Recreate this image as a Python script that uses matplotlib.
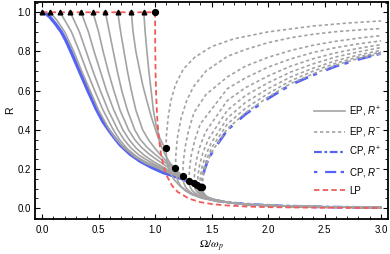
import matplotlib
matplotlib.use('Agg')
import matplotlib.pyplot as plt
from matplotlib.lines import Line2D

# ---------------- data ----------------
# CP: common part (R+ = R-) for Omega < sqrt(2)
cp_low_x = [0.0, 0.03, 0.07, 0.12, 0.17, 0.21, 0.255, 0.30, 0.33, 0.405, 0.48, 0.54, 0.60, 0.65, 0.69, 0.78, 0.867, 0.97, 1.07, 1.15, 1.227, 1.30, 1.374, 1.414]
cp_low_y = [1.0, 0.995, 0.975, 0.94, 0.90, 0.857, 0.80, 0.74, 0.70, 0.60, 0.505, 0.44, 0.39, 0.352, 0.323, 0.275, 0.24, 0.208, 0.182, 0.167, 0.153, 0.135, 0.117, 0.105]
cp_plus_x = [1.414, 1.417, 1.424, 1.436, 1.456, 1.486, 1.53, 1.6, 1.7, 1.85, 2.1, 2.5, 3.0]
cp_plus_y = [0.105, 0.088, 0.076, 0.065, 0.056, 0.048, 0.041, 0.033, 0.026, 0.019, 0.012, 0.006, 0.003]
cp_minus_x = [1.414, 1.419, 1.434, 1.464, 1.514, 1.64, 1.8, 2.0, 2.2, 2.4, 2.6, 2.8, 3.0]
cp_minus_y = [0.105, 0.145, 0.19, 0.24, 0.295, 0.40, 0.48, 0.56, 0.63, 0.68, 0.725, 0.76, 0.79]

# LP
lp_x = [0.0, 1.0, 1.0, 1.001, 1.005, 1.01, 1.02, 1.03, 1.05, 1.07, 1.1, 1.15, 1.2, 1.3, 1.4, 1.5, 1.6, 1.8, 2.0, 2.5, 3.0]
lp_y = [1.0, 1.0, 1.0, 0.835, 0.67, 0.568, 0.45, 0.376, 0.284, 0.226, 0.169, 0.115, 0.083, 0.0485, 0.031, 0.0213, 0.0152, 0.0085, 0.0052, 0.0019, 0.0009]

# EP: start points on R = 1 (triangles) and branch points (dots)
ep_start_x = [0.0, 0.07, 0.16, 0.25, 0.345, 0.45, 0.56, 0.67, 0.79, 0.90]
ep_branch_x = [1.418, 1.41, 1.395, 1.375, 1.345, 1.30, 1.245, 1.18, 1.097]
ep_branch_y = [0.106, 0.108, 0.110, 0.116, 0.126, 0.139, 0.163, 0.205, 0.305]

# EP curves before branch point (R+ = R-)
ep1_low_x = [0.07, 0.13, 0.20, 0.28, 0.35, 0.425, 0.50, 0.595, 0.65, 0.72, 0.82, 0.92, 1.0, 1.1, 1.2, 1.28, 1.35, 1.418]
ep1_low_y = [1.0, 0.96, 0.9, 0.8, 0.7, 0.6, 0.5, 0.4, 0.355, 0.31, 0.263, 0.228, 0.21, 0.185, 0.163, 0.143, 0.124, 0.106]
ep2_low_x = [0.16, 0.26, 0.33, 0.395, 0.465, 0.54, 0.63, 0.685, 0.75, 0.84, 0.92, 1.0, 1.1, 1.2, 1.28, 1.35, 1.41]
ep2_low_y = [1.0, 0.9, 0.8, 0.7, 0.6, 0.5, 0.4, 0.35, 0.305, 0.262, 0.235, 0.215, 0.189, 0.165, 0.145, 0.125, 0.108]
ep3_low_x = [0.25, 0.33, 0.39, 0.45, 0.515, 0.585, 0.67, 0.725, 0.785, 0.86, 0.93, 1.0, 1.1, 1.2, 1.28, 1.34, 1.395]
ep3_low_y = [1.0, 0.9, 0.8, 0.7, 0.6, 0.5, 0.4, 0.35, 0.308, 0.27, 0.245, 0.222, 0.194, 0.168, 0.146, 0.128, 0.110]
ep4_low_x = [0.345, 0.41, 0.46, 0.515, 0.57, 0.635, 0.715, 0.77, 0.83, 0.9, 0.96, 1.0, 1.1, 1.2, 1.28, 1.33, 1.375]
ep4_low_y = [1.0, 0.9, 0.8, 0.7, 0.6, 0.5, 0.4, 0.35, 0.308, 0.272, 0.248, 0.233, 0.2, 0.171, 0.149, 0.132, 0.116]
ep5_low_x = [0.45, 0.50, 0.54, 0.585, 0.635, 0.69, 0.765, 0.82, 0.88, 0.95, 1.0, 1.1, 1.2, 1.27, 1.31, 1.345]
ep5_low_y = [1.0, 0.9, 0.8, 0.7, 0.6, 0.5, 0.4, 0.35, 0.31, 0.275, 0.254, 0.214, 0.178, 0.153, 0.139, 0.126]
ep6_low_x = [0.56, 0.595, 0.63, 0.665, 0.705, 0.755, 0.82, 0.87, 0.93, 1.0, 1.1, 1.2, 1.25, 1.30]
ep6_low_y = [1.0, 0.9, 0.8, 0.7, 0.6, 0.5, 0.4, 0.35, 0.31, 0.275, 0.228, 0.185, 0.162, 0.139]
ep7_low_x = [0.67, 0.695, 0.725, 0.755, 0.79, 0.83, 0.89, 0.94, 1.0, 1.05, 1.1, 1.15, 1.2, 1.245]
ep7_low_y = [1.0, 0.9, 0.8, 0.7, 0.6, 0.5, 0.4, 0.35, 0.305, 0.27, 0.24, 0.212, 0.187, 0.163]
ep8_low_x = [0.79, 0.805, 0.83, 0.858, 0.89, 0.926, 0.97, 1.015, 1.06, 1.1, 1.14, 1.18]
ep8_low_y = [1.0, 0.9, 0.8, 0.72, 0.63, 0.55, 0.46, 0.38, 0.31, 0.26, 0.225, 0.205]
ep9_low_x = [0.90, 0.912, 0.928, 0.945, 0.965, 0.985, 1.01, 1.04, 1.07, 1.097]
ep9_low_y = [1.0, 0.9, 0.8, 0.7, 0.6, 0.5, 0.42, 0.36, 0.325, 0.305]

# EP, R+ after branch point
ep1_plus_x = [1.418, 1.421, 1.428, 1.44, 1.46, 1.49, 1.53, 1.59, 1.67, 1.8, 2.2, 3.0]
ep1_plus_y = [0.106, 0.09, 0.079, 0.068, 0.058, 0.05, 0.043, 0.035, 0.028, 0.019, 0.009, 0.003]
ep2_plus_x = [1.41, 1.413, 1.42, 1.433, 1.452, 1.48, 1.52, 1.58, 1.66, 1.8, 2.2, 3.0]
ep2_plus_y = [0.108, 0.092, 0.081, 0.07, 0.06, 0.052, 0.044, 0.036, 0.029, 0.019, 0.009, 0.003]
ep3_plus_x = [1.395, 1.398, 1.405, 1.42, 1.44, 1.47, 1.51, 1.57, 1.65, 1.8, 2.2, 3.0]
ep3_plus_y = [0.110, 0.095, 0.084, 0.073, 0.063, 0.054, 0.046, 0.038, 0.03, 0.019, 0.009, 0.003]
ep4_plus_x = [1.375, 1.378, 1.385, 1.4, 1.425, 1.455, 1.495, 1.55, 1.64, 1.8, 2.2, 3.0]
ep4_plus_y = [0.116, 0.101, 0.09, 0.078, 0.066, 0.057, 0.048, 0.04, 0.031, 0.019, 0.009, 0.003]
ep5_plus_x = [1.345, 1.348, 1.355, 1.37, 1.395, 1.43, 1.47, 1.53, 1.62, 1.8, 2.2, 3.0]
ep5_plus_y = [0.126, 0.11, 0.098, 0.085, 0.072, 0.061, 0.052, 0.042, 0.032, 0.019, 0.009, 0.003]
ep6_plus_x = [1.30, 1.303, 1.31, 1.325, 1.35, 1.385, 1.43, 1.5, 1.6, 1.8, 2.2, 3.0]
ep6_plus_y = [0.139, 0.122, 0.108, 0.093, 0.079, 0.066, 0.055, 0.044, 0.033, 0.019, 0.009, 0.003]
ep7_plus_x = [1.245, 1.248, 1.255, 1.27, 1.295, 1.33, 1.38, 1.45, 1.55, 1.8, 2.2, 3.0]
ep7_plus_y = [0.163, 0.143, 0.127, 0.108, 0.09, 0.075, 0.061, 0.049, 0.037, 0.019, 0.009, 0.003]
ep8_plus_x = [1.18, 1.183, 1.19, 1.205, 1.23, 1.27, 1.33, 1.42, 1.55, 1.8, 2.2, 3.0]
ep8_plus_y = [0.205, 0.18, 0.16, 0.135, 0.11, 0.088, 0.068, 0.05, 0.035, 0.019, 0.009, 0.003]
ep9_plus_x = [1.097, 1.10, 1.105, 1.115, 1.135, 1.17, 1.22, 1.3, 1.4, 1.55, 1.8, 2.2, 3.0]
ep9_plus_y = [0.305, 0.27, 0.245, 0.215, 0.18, 0.145, 0.113, 0.08, 0.055, 0.034, 0.02, 0.01, 0.003]

# EP, R- after branch point
ep1_minus_x = [1.418, 1.423, 1.438, 1.468, 1.518, 1.64, 1.8, 2.0, 2.2, 2.4, 2.6, 2.8, 3.0]
ep1_minus_y = [0.106, 0.150, 0.194, 0.245, 0.302, 0.405, 0.487, 0.567, 0.636, 0.686, 0.73, 0.764, 0.789]
ep2_minus_x = [1.41, 1.415, 1.43, 1.46, 1.51, 1.64, 1.8, 2.0, 2.2, 2.4, 2.6, 2.8, 3.0]
ep2_minus_y = [0.108, 0.155, 0.201, 0.256, 0.317, 0.43, 0.51, 0.585, 0.65, 0.70, 0.74, 0.772, 0.797]
ep3_minus_x = [1.395, 1.40, 1.415, 1.445, 1.495, 1.64, 1.8, 2.0, 2.2, 2.4, 2.6, 2.8, 3.0]
ep3_minus_y = [0.110, 0.160, 0.209, 0.267, 0.331, 0.46, 0.54, 0.61, 0.67, 0.715, 0.753, 0.782, 0.806]
ep4_minus_x = [1.375, 1.38, 1.395, 1.425, 1.475, 1.64, 1.8, 2.0, 2.2, 2.4, 2.6, 2.8, 3.0]
ep4_minus_y = [0.116, 0.170, 0.223, 0.286, 0.356, 0.50, 0.575, 0.64, 0.695, 0.737, 0.772, 0.798, 0.82]
ep5_minus_x = [1.345, 1.35, 1.365, 1.395, 1.445, 1.64, 1.8, 2.0, 2.2, 2.4, 2.6, 2.8, 3.0]
ep5_minus_y = [0.126, 0.185, 0.243, 0.312, 0.388, 0.55, 0.615, 0.675, 0.725, 0.763, 0.793, 0.816, 0.835]
ep6_minus_x = [1.30, 1.305, 1.32, 1.35, 1.40, 1.64, 1.8, 2.0, 2.2, 2.4, 2.6, 2.8, 3.0]
ep6_minus_y = [0.139, 0.204, 0.269, 0.345, 0.43, 0.61, 0.665, 0.72, 0.762, 0.795, 0.82, 0.839, 0.854]
ep7_minus_x = [1.245, 1.25, 1.265, 1.295, 1.345, 1.45, 1.64, 1.8, 2.0, 2.2, 2.4, 2.6, 2.8, 3.0]
ep7_minus_y = [0.163, 0.236, 0.309, 0.393, 0.489, 0.58, 0.67, 0.725, 0.77, 0.805, 0.832, 0.852, 0.868, 0.881]
ep8_minus_x = [1.18, 1.185, 1.2, 1.23, 1.28, 1.34, 1.45, 1.64, 1.8, 2.0, 2.2, 2.4, 2.6, 2.8, 3.0]
ep8_minus_y = [0.205, 0.285, 0.37, 0.46, 0.55, 0.62, 0.70, 0.775, 0.81, 0.845, 0.87, 0.888, 0.901, 0.91, 0.917]
ep9_minus_x = [1.097, 1.10, 1.115, 1.14, 1.18, 1.25, 1.35, 1.5, 1.7, 2.0, 2.4, 2.7, 3.0]
ep9_minus_y = [0.305, 0.37, 0.46, 0.55, 0.63, 0.71, 0.77, 0.825, 0.865, 0.90, 0.93, 0.945, 0.956]

x_ticks = [0.0, 0.5, 1.0, 1.5, 2.0, 2.5, 3.0]
y_ticks = [0.0, 0.2, 0.4, 0.6, 0.8, 1.0]
legend_labels = ['EP, $R^{+}$', 'EP, $R^{-}$', 'CP, $R^{+}$', 'CP, $R^{-}$', 'LP']

# ---------------- style ----------------
plt.rcParams['font.family'] = ['Liberation Sans', 'DejaVu Sans']
plt.rcParams['mathtext.fontset'] = 'custom'
plt.rcParams['mathtext.rm'] = 'Liberation Sans'
plt.rcParams['mathtext.it'] = 'Liberation Sans:italic'

GRAY = '#a3a3a3'
BLUE = '#5563f5'
RED = '#f05a5a'
DOT_DASH = (0, (2.0, 1.6))
CP_PLUS = (0, (3.5, 1.2, 1.2, 1.2))
CP_MINUS = (0, (1.5, 3.5, 5.0, 2.0))
LP_DASH = (0, (3.0, 1.8))

fig = plt.figure(figsize=(3.9, 2.54), dpi=100)
ax = fig.add_axes([0.09, 0.138, 0.905, 0.856])

ep_low = [(ep1_low_x, ep1_low_y), (ep2_low_x, ep2_low_y), (ep3_low_x, ep3_low_y),
          (ep4_low_x, ep4_low_y), (ep5_low_x, ep5_low_y), (ep6_low_x, ep6_low_y),
          (ep7_low_x, ep7_low_y), (ep8_low_x, ep8_low_y), (ep9_low_x, ep9_low_y)]
ep_plus = [(ep1_plus_x, ep1_plus_y), (ep2_plus_x, ep2_plus_y), (ep3_plus_x, ep3_plus_y),
           (ep4_plus_x, ep4_plus_y), (ep5_plus_x, ep5_plus_y), (ep6_plus_x, ep6_plus_y),
           (ep7_plus_x, ep7_plus_y), (ep8_plus_x, ep8_plus_y), (ep9_plus_x, ep9_plus_y)]
ep_minus = [(ep1_minus_x, ep1_minus_y), (ep2_minus_x, ep2_minus_y), (ep3_minus_x, ep3_minus_y),
            (ep4_minus_x, ep4_minus_y), (ep5_minus_x, ep5_minus_y), (ep6_minus_x, ep6_minus_y),
            (ep7_minus_x, ep7_minus_y), (ep8_minus_x, ep8_minus_y), (ep9_minus_x, ep9_minus_y)]

# CP curves (below the gray ones)
ax.plot(cp_low_x, cp_low_y, color=BLUE, lw=2.4, solid_capstyle='round', zorder=1)
ax.plot(cp_plus_x, cp_plus_y, color=BLUE, lw=2.0, ls=CP_PLUS, zorder=1)
ax.plot(cp_minus_x, cp_minus_y, color=BLUE, lw=2.0, ls=CP_MINUS, zorder=1)

for (lx, ly), (px, py), (mx, my) in zip(ep_low, ep_plus, ep_minus):
    ax.plot(lx, ly, color=GRAY, lw=1.2, zorder=2)
    ax.plot(px, py, color=GRAY, lw=1.2, zorder=2)
    ax.plot(mx, my, color=GRAY, lw=1.2, ls=DOT_DASH, zorder=2)

ax.plot(lp_x, lp_y, color=RED, lw=1.3, ls=LP_DASH, zorder=3)

ax.plot(ep_start_x, [1.0] * len(ep_start_x), ls='none', marker='^', ms=3.4, color='black', zorder=5)
ax.plot([1.0], [1.0], ls='none', marker='o', ms=4.2, color='black', zorder=5)
ax.plot(ep_branch_x, ep_branch_y, ls='none', marker='o', ms=4.2, color='black', zorder=5)

ax.set_xlim(-0.062, 3.062)
ax.set_ylim(-0.055, 1.055)
ax.set_xticks(x_ticks)
ax.set_yticks(y_ticks)
ax.set_xticklabels([f'{v:.1f}' for v in x_ticks])
ax.set_yticklabels([f'{v:.1f}' for v in y_ticks])
ax.set_xticks([i * 0.1 for i in range(0, 31)], minor=True)
ax.set_yticks([i * 0.05 for i in range(-1, 22)], minor=True)
ax.tick_params(which='both', direction='in', top=True, right=True, labelsize=7, colors='black')
ax.tick_params(axis='x', which='major', pad=4)
ax.tick_params(axis='y', which='major', pad=3)
ax.tick_params(which='major', length=3.5, width=0.8)
ax.tick_params(which='minor', length=2, width=0.6)
for s in ax.spines.values():
    s.set_linewidth(1.3)

ax.set_ylabel('R', fontsize=7.5, labelpad=2)
ax.set_xlabel(r'$\Omega/\omega_p$', fontsize=8, math_fontfamily='stix', labelpad=3)

handles = [Line2D([], [], color=GRAY, lw=1.2),
           Line2D([], [], color=GRAY, lw=1.2, ls=DOT_DASH),
           Line2D([], [], color=BLUE, lw=1.6, ls=CP_PLUS),
           Line2D([], [], color=BLUE, lw=1.6, ls=CP_MINUS),
           Line2D([], [], color=RED, lw=1.3, ls=LP_DASH)]
ax.legend(handles, legend_labels, loc='center left', bbox_to_anchor=(0.772, 0.317), frameon=False,
          fontsize=7, handlelength=3.2, handletextpad=0.34, labelspacing=0.68, borderpad=0.2)

fig.savefig('out.png', dpi=100)
